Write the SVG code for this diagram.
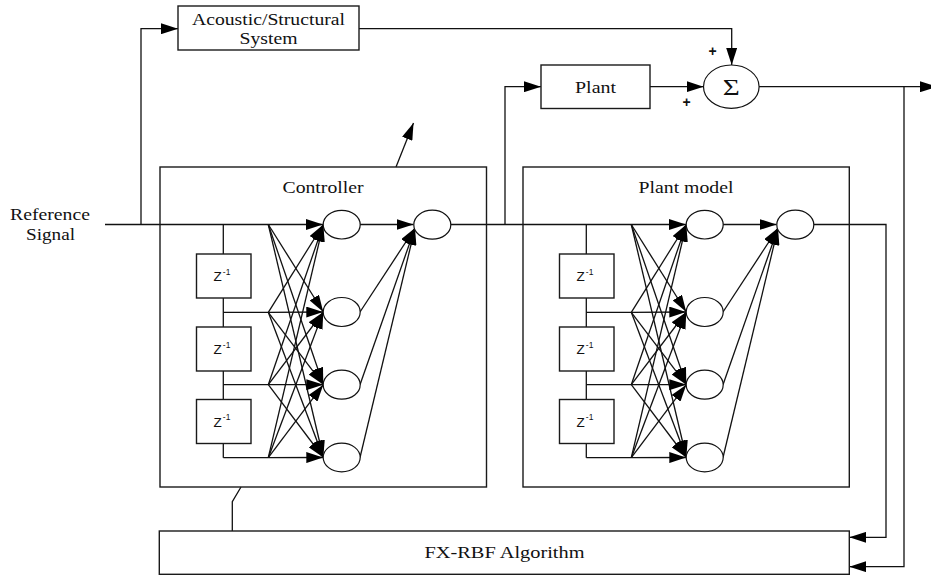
<svg xmlns="http://www.w3.org/2000/svg" width="931" height="576" viewBox="0 0 931 576">
  <style>
    .box { fill: #fff; stroke: #1a1a1a; stroke-width: 1.4; }
    .neuron { fill: #fff; stroke: #111; stroke-width: 1.2; }
    .wire { fill: none; stroke: #111; stroke-width: 1.3; }
    .arrow { fill: none; stroke: #111; stroke-width: 1.3; marker-end: url(#head); }
    .lbl { font-family: "Liberation Serif", "Times New Roman", serif; font-size: 17px; fill: #111; text-anchor: middle; }
    .z { font-family: "Liberation Sans", Arial, sans-serif; font-size: 13.5px; fill: #111; }
    .zs { font-family: "Liberation Sans", Arial, sans-serif; font-size: 8.5px; fill: #111; }
    .sign { font-family: "Liberation Sans", Arial, sans-serif; font-size: 14px; font-weight: bold; fill: #111; text-anchor: middle; }
  </style>
  <defs>
    <marker id="head" markerUnits="userSpaceOnUse" markerWidth="17" markerHeight="11" viewBox="0 0 17 11" refX="17" refY="5.5" orient="auto">
      <path d="M0,0 L17,5.5 L0,11 z" fill="#000"/>
    </marker>
  </defs>

  <rect width="931" height="576" fill="#fff"/>

  <!-- connectors between blocks -->
  <g id="connectors">
    <!-- reference signal into the controller -->
    <line class="arrow" x1="105" y1="224.5" x2="323" y2="224.5"/>
    <!-- tap to the acoustic/structural path -->
    <polyline class="arrow" points="141,224.5 141,28.7 178,28.7"/>
    <!-- primary path into summing junction -->
    <polyline class="arrow" points="359,28.7 731.7,28.7 731.7,65"/>
    <!-- controller output to plant model and plant -->
    <line class="arrow" x1="450.7" y1="224.5" x2="686" y2="224.5"/>
    <polyline class="arrow" points="505,224.5 505,86.7 541,86.7"/>
    <line class="arrow" x1="650" y1="86.7" x2="703.5" y2="86.7"/>
    <!-- error signal -->
    <line class="arrow" x1="759" y1="86.7" x2="937" y2="86.7"/>
    <polyline class="arrow" points="904,86.7 904,566.7 849.3,566.7"/>
    <!-- plant model output to algorithm -->
    <polyline class="arrow" points="813.7,224.5 886,224.5 886,537.3 849.3,537.3"/>
    <!-- weight adaptation -->
    <polyline class="wire" points="232.3,531 232.3,501.7 241,487"/>
    <line class="arrow" x1="396" y1="167" x2="413.5" y2="123"/>
  </g>

  <!-- acoustic / structural system -->
  <g id="acoustic">
    <rect class="box" x="178" y="6" width="181" height="44"/>
    <text class="lbl" x="268.5" y="25" textLength="153" lengthAdjust="spacingAndGlyphs">Acoustic/Structural</text>
    <text class="lbl" x="268.5" y="43.5" textLength="58" lengthAdjust="spacingAndGlyphs">System</text>
  </g>

  <!-- plant -->
  <g id="plant">
    <rect class="box" x="541" y="65" width="109" height="43.5"/>
    <text class="lbl" x="595.5" y="92.5" textLength="41" lengthAdjust="spacingAndGlyphs">Plant</text>
  </g>

  <!-- summing junction -->
  <g id="sum">
    <ellipse class="neuron" cx="731.3" cy="86.7" rx="27.8" ry="21.7"/>
    <text class="lbl" x="731.3" y="94.5" style="font-size:23px" textLength="17" lengthAdjust="spacingAndGlyphs">Σ</text>
    <text class="sign" x="712.7" y="55.5">+</text>
    <text class="sign" x="686.7" y="106.5">+</text>
  </g>

  <!-- reference signal label -->
  <g id="reference">
    <text class="lbl" x="50" y="220" textLength="80" lengthAdjust="spacingAndGlyphs">Reference</text>
    <text class="lbl" x="50.5" y="239.5" textLength="49" lengthAdjust="spacingAndGlyphs">Signal</text>
  </g>

  <!-- RBF controller -->
  <g id="controller">
    <rect class="box" x="160" y="167" width="326.5" height="320" style="fill:none"/>
    <text class="lbl" x="323" y="193" textLength="81" lengthAdjust="spacingAndGlyphs">Controller</text>
    <g id="controller-net">
      <!-- tapped delay line -->
      <line class="wire" x1="223.3" y1="224.5" x2="223.3" y2="457.7"/>
      <polyline class="wire" points="223.3,312.3 268.3,312.3"/>
      <polyline class="wire" points="223.3,384.7 268.3,384.7"/>
      <polyline class="wire" points="223.3,457.7 268.3,457.7"/>
      <g id="controller-delays">
        <rect class="box" x="196.5" y="254" width="54.5" height="44"/>
        <text class="z" x="213.5" y="281">Z</text><text class="zs" x="222.8" y="274.5">-1</text>
        <rect class="box" x="196.5" y="327" width="54.5" height="44"/>
        <text class="z" x="213.5" y="354">Z</text><text class="zs" x="222.8" y="347.5">-1</text>
        <rect class="box" x="196.5" y="399.5" width="54.5" height="44"/>
        <text class="z" x="213.5" y="426.5">Z</text><text class="zs" x="222.8" y="420">-1</text>
      </g>
      <!-- input-to-hidden weights -->
      <g id="controller-weights">
        <line class="arrow" x1="268.3" y1="224.5" x2="323.3" y2="312"/>
        <line class="arrow" x1="268.3" y1="224.5" x2="323.3" y2="384.7"/>
        <line class="arrow" x1="268.3" y1="224.5" x2="323.3" y2="457.5"/>
        <line class="arrow" x1="268.3" y1="312.3" x2="323.3" y2="224.5"/>
        <line class="arrow" x1="268.3" y1="312.3" x2="323.3" y2="312"/>
        <line class="arrow" x1="268.3" y1="312.3" x2="323.3" y2="384.7"/>
        <line class="arrow" x1="268.3" y1="312.3" x2="323.3" y2="457.5"/>
        <line class="arrow" x1="268.3" y1="384.7" x2="323.3" y2="224.5"/>
        <line class="arrow" x1="268.3" y1="384.7" x2="323.3" y2="312"/>
        <line class="arrow" x1="268.3" y1="384.7" x2="323.3" y2="384.7"/>
        <line class="arrow" x1="268.3" y1="384.7" x2="323.3" y2="457.5"/>
        <line class="arrow" x1="268.3" y1="457.7" x2="323.3" y2="224.5"/>
        <line class="arrow" x1="268.3" y1="457.7" x2="323.3" y2="312"/>
        <line class="arrow" x1="268.3" y1="457.7" x2="323.3" y2="384.7"/>
        <line class="arrow" x1="268.3" y1="457.7" x2="323.3" y2="457.5"/>
        <!-- hidden-to-output -->
        <line class="arrow" x1="360" y1="224.5" x2="413.5" y2="224.5"/>
        <line class="arrow" x1="360" y1="312" x2="415" y2="228"/>
        <line class="arrow" x1="360" y1="384.7" x2="415" y2="228"/>
        <line class="arrow" x1="360" y1="457.5" x2="415" y2="228"/>
      </g>
      <g id="controller-neurons">
        <ellipse class="neuron" cx="341.7" cy="224.7" rx="18.5" ry="14.3"/>
        <ellipse class="neuron" cx="341.7" cy="312" rx="18.5" ry="14.5"/>
        <ellipse class="neuron" cx="341.7" cy="384.7" rx="18.5" ry="14.5"/>
        <ellipse class="neuron" cx="341.7" cy="457.5" rx="18.5" ry="14.3"/>
        <ellipse class="neuron" cx="432.3" cy="224.7" rx="18.5" ry="14.5"/>
      </g>
    </g>
  </g>

  <!-- RBF plant model: same network shifted right -->
  <g id="plant-model">
    <rect class="box" x="523" y="167" width="326.3" height="320" style="fill:none"/>
    <text class="lbl" x="686" y="193" textLength="95" lengthAdjust="spacingAndGlyphs">Plant model</text>
    <g id="plant-model-net" transform="translate(363,0)">
      <line class="wire" x1="223.3" y1="224.5" x2="223.3" y2="457.7"/>
      <polyline class="wire" points="223.3,312.3 268.3,312.3"/>
      <polyline class="wire" points="223.3,384.7 268.3,384.7"/>
      <polyline class="wire" points="223.3,457.7 268.3,457.7"/>
      <g id="plant-model-delays">
        <rect class="box" x="196.5" y="254" width="54.5" height="44"/>
        <text class="z" x="213.5" y="281">Z</text><text class="zs" x="222.8" y="274.5">-1</text>
        <rect class="box" x="196.5" y="327" width="54.5" height="44"/>
        <text class="z" x="213.5" y="354">Z</text><text class="zs" x="222.8" y="347.5">-1</text>
        <rect class="box" x="196.5" y="399.5" width="54.5" height="44"/>
        <text class="z" x="213.5" y="426.5">Z</text><text class="zs" x="222.8" y="420">-1</text>
      </g>
      <g id="plant-model-weights">
        <line class="arrow" x1="268.3" y1="224.5" x2="323.3" y2="312"/>
        <line class="arrow" x1="268.3" y1="224.5" x2="323.3" y2="384.7"/>
        <line class="arrow" x1="268.3" y1="224.5" x2="323.3" y2="457.5"/>
        <line class="arrow" x1="268.3" y1="312.3" x2="323.3" y2="224.5"/>
        <line class="arrow" x1="268.3" y1="312.3" x2="323.3" y2="312"/>
        <line class="arrow" x1="268.3" y1="312.3" x2="323.3" y2="384.7"/>
        <line class="arrow" x1="268.3" y1="312.3" x2="323.3" y2="457.5"/>
        <line class="arrow" x1="268.3" y1="384.7" x2="323.3" y2="224.5"/>
        <line class="arrow" x1="268.3" y1="384.7" x2="323.3" y2="312"/>
        <line class="arrow" x1="268.3" y1="384.7" x2="323.3" y2="384.7"/>
        <line class="arrow" x1="268.3" y1="384.7" x2="323.3" y2="457.5"/>
        <line class="arrow" x1="268.3" y1="457.7" x2="323.3" y2="224.5"/>
        <line class="arrow" x1="268.3" y1="457.7" x2="323.3" y2="312"/>
        <line class="arrow" x1="268.3" y1="457.7" x2="323.3" y2="384.7"/>
        <line class="arrow" x1="268.3" y1="457.7" x2="323.3" y2="457.5"/>
        <line class="arrow" x1="360" y1="224.5" x2="413.5" y2="224.5"/>
        <line class="arrow" x1="360" y1="312" x2="415" y2="228"/>
        <line class="arrow" x1="360" y1="384.7" x2="415" y2="228"/>
        <line class="arrow" x1="360" y1="457.5" x2="415" y2="228"/>
      </g>
      <g id="plant-model-neurons">
        <ellipse class="neuron" cx="341.7" cy="224.7" rx="18.5" ry="14.3"/>
        <ellipse class="neuron" cx="341.7" cy="312" rx="18.5" ry="14.5"/>
        <ellipse class="neuron" cx="341.7" cy="384.7" rx="18.5" ry="14.5"/>
        <ellipse class="neuron" cx="341.7" cy="457.5" rx="18.5" ry="14.3"/>
        <ellipse class="neuron" cx="432.3" cy="224.7" rx="18.5" ry="14.5"/>
      </g>
    </g>
  </g>

  <!-- adaptation algorithm -->
  <g id="algorithm">
    <rect class="box" x="159.3" y="531" width="690" height="43.3"/>
    <text class="lbl" x="504.5" y="558.3" textLength="160" lengthAdjust="spacingAndGlyphs">FX-RBF Algorithm</text>
  </g>
</svg>
